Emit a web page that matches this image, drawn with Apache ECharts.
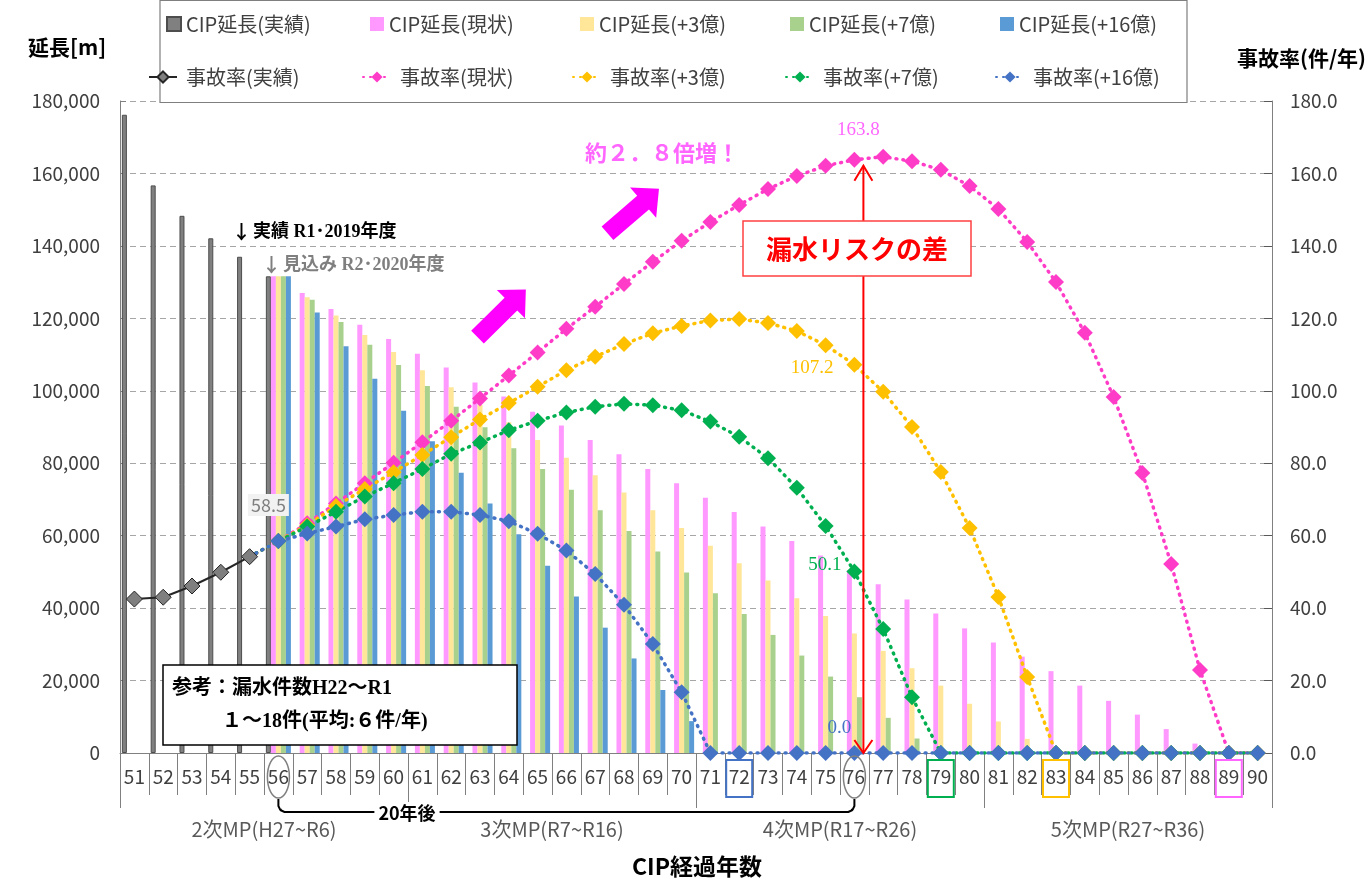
<!DOCTYPE html>
<html><head><meta charset="utf-8">
<script src="https://cdn.jsdelivr.net/npm/echarts/dist/echarts.min.js"></script>
<style>html,body{margin:0;padding:0;background:#fff}#c{width:1370px;height:880px}</style>
</head><body><div id="c"></div>
<script>
const categories = ['51','52','53','54','55','56','57','58','59','60','61','62','63','64','65','66','67','68','69','70','71','72','73','74','75','76','77','78','79','80','81','82','83','84','85','86','87','88','89','90'];
const mpGroups = ['2次MP(H27~R6)','3次MP(R7~R16)','4次MP(R17~R26)','5次MP(R27~R36)'];
const leftTicks = [0,20000,40000,60000,80000,100000,120000,140000,160000,180000];
const rightTicks = [0,20,40,60,80,100,120,140,160,180];

// CIP延長 [m]
const barActual = [176200,156700,148300,142100,137000,131600,null,null,null,null,null,null,null,null,null,null,null,null,null,null,null,null,null,null,null,null,null,null,null,null,null,null,null,null,null,null,null,null,null,null];
const barNow = [null,null,null,null,null,131600,127000,122600,118200,114300,110200,106400,102300,98400,94200,90400,86400,82500,78400,74500,70500,66500,62500,58500,54500,50500,46600,42400,38500,34400,30500,26600,22600,18600,14400,10600,6600,2600,0,0];
const bar3 = [null,null,null,null,null,131600,125800,120800,115400,110700,105700,101000,96100,91300,86400,81500,76700,71900,67000,62100,57200,52400,47600,42700,37800,33000,28200,23400,18600,13600,8700,3900,0,0,0,0,0,0,0,0];
const bar7 = [null,null,null,null,null,131600,125100,119000,112700,107100,101300,95600,89900,84100,78400,72700,67000,61300,55600,49800,44100,38400,32600,26900,21100,15400,9700,4000,0,0,0,0,0,0,0,0,0,0,0,0];
const bar16 = [null,null,null,null,null,131600,121600,112300,103300,94500,86100,77400,68900,60400,51700,43200,34600,26100,17400,8800,0,0,0,0,0,0,0,0,0,0,0,0,0,0,0,0,0,0,0,0];

// 事故率 [件/年]
const rateActual = [42.5,43.0,46.1,49.9,54.2,null,null,null,null,null,null,null,null,null,null,null,null,null,null,null,null,null,null,null,null,null,null,null,null,null,null,null,null,null,null,null,null,null,null,null];
const rateNow = [null,null,null,null,54.2,58.5,63.4,68.9,74.5,80.1,85.8,91.7,97.9,104.2,110.6,117.1,123.2,129.5,135.6,141.4,146.6,151.3,155.7,159.3,162.1,163.8,164.6,163.4,161.0,156.5,150.2,141.1,130.0,116.0,98.3,77.3,52.2,22.9,0,0];
const rate3 = [null,null,null,null,54.2,58.5,62.9,68.2,72.9,77.5,82.3,87.2,92.1,96.6,101.1,105.7,109.4,112.9,115.9,117.9,119.4,119.8,118.7,116.5,112.6,107.2,99.7,90.0,77.6,62.1,43.1,21.0,0,0,0,0,0,0,0,0];
const rate7 = [null,null,null,null,54.2,58.5,62.5,66.6,70.8,74.5,78.4,82.6,85.7,89.1,91.7,94.0,95.6,96.4,96.0,94.6,91.5,87.3,81.4,73.2,62.7,50.1,34.2,15.4,0,0,0,0,0,0,0,0,0,0,0,0];
const rate16 = [null,null,null,null,54.2,58.5,60.6,62.5,64.5,65.7,66.6,66.6,65.7,64.0,60.5,55.9,49.4,40.9,30.1,16.8,0,0,0,0,0,0,0,0,0,0,0,0,0,0,0,0,0,0,0,0];

const barNames = ['CIP延長(実績)','CIP延長(現状)','CIP延長(+3億)','CIP延長(+7億)','CIP延長(+16億)'];
const lineNames = ['事故率(実績)','事故率(現状)','事故率(+3億)','事故率(+7億)','事故率(+16億)'];
const barColors = ['#808080','#FF99FF','#FFE699','#A9D18E','#5B9BD5'];
const lineColors = ['#7F7F7F','#FF3CC8','#FFC000','#00B050','#4472C4'];

const SANS = "'Noto Sans CJK JP','Noto Sans',sans-serif";
const SERIF = "'Liberation Serif','Noto Sans CJK JP',serif";
const START_IDX = 4;   // forecast lines start (hidden symbol) at 55
const MARK_IDX = 25;   // category 76
const FIRST_IDX = 5;   // category 56

const chart = echarts.init(document.getElementById('c'), null, {renderer:'canvas'});

function fmt1(p){ return Number(p.value).toFixed(1); }

const labelCfgs = [
  null,
  {position:'top', distance:5, offset:[4,-7], color:'#FF66FF'},
  {position:'left', distance:5, offset:[-8,3], color:'#FFC000'},
  {position:'left', distance:5, offset:[0,-7], color:'#00B050'},
  {position:'top', distance:5, offset:[-15,-2], color:'#4472C4'}
];

function buildLine(data, k){
  return data.map((v,i)=>{
    if (v === null) return v;
    if (k > 0 && i === START_IDX) return {value:v, symbol:'none'};
    if (k > 0 && i === MARK_IDX) return {value:v, label:Object.assign({show:true, fontSize:19, fontFamily:SERIF, formatter:fmt1}, labelCfgs[k])};
    if (k === 4 && i === FIRST_IDX) return {value:v, label:{show:true, position:'top', distance:5, offset:[-10,-12], color:'#7F7F7F', backgroundColor:'#F2F2F2', padding:[2,3], fontSize:18, fontFamily:SANS, formatter:fmt1}};
    return v;
  });
}

const barData = [barActual, barNow, bar3, bar7, bar16];
const lineData = [rateActual, rateNow, rate3, rate7, rate16];

const series = [];
barData.forEach((d,k)=>{
  series.push({
    name: barNames[k], type:'bar', xAxisIndex:0, yAxisIndex:0, data:d,
    barGap:'0%', barCategoryGap:'13%',
    itemStyle: k===0 ? {color:barColors[k], borderColor:'#4d4d4d', borderWidth:1} : {color:barColors[k]},
    z:2
  });
});
lineData.forEach((d,k)=>{
  series.push({
    name: lineNames[k], type:'line', xAxisIndex:0, yAxisIndex:1, data: buildLine(d,k),
    symbol:'diamond', symbolSize:16, showAllSymbol:true, connectNulls:false,
    lineStyle: k===0 ? {color:'#262626', width:2, type:'solid'} : {color:lineColors[k], width:3.5, type:[1,6], cap:'round'},
    itemStyle: k===0 ? {color:'#7F7F7F', borderColor:'#262626', borderWidth:1} : {color:lineColors[k]},
    z: k===0 ? 4 : 3
  });
});

const barLegendX = [166, 370, 580, 790, 1000];
const lineLegendX = [148, 362, 572, 785, 995];
const legendText = {color:'#404040', fontSize:20, fontFamily:SANS};
const legends = [];
barNames.forEach((n,i)=>legends.push({data:[{name:n, icon:'rect'}], left:barLegendX[i], top:14, itemWidth:14, itemHeight:14, padding:0, selectedMode:false, textStyle:legendText}));
lineNames.forEach((n,i)=>legends.push({data:[n], left:lineLegendX[i], top:67, itemWidth:28, itemHeight:14, padding:0, selectedMode:false, textStyle:Object.assign({padding:[0,0,0,4]}, legendText)}));

const option = {
  animation:false,
  backgroundColor:'#fff',
  legend: legends,
  grid:{left:120, right:98, top:101, bottom:127, containLabel:false},
  xAxis:[
    {type:'category', data:categories, boundaryGap:true,
     axisLine:{show:true, lineStyle:{color:'#808080', width:1}},
     axisTick:{show:true, interval:0, length:42, lineStyle:{color:'#808080'}},
     axisLabel:{interval:0, margin:14, color:'#404040', fontSize:19, fontFamily:SANS}},
    {type:'category', data:mpGroups, position:'bottom', offset:42, boundaryGap:true,
     axisLine:{show:false},
     axisTick:{show:true, interval:0, length:55, lineStyle:{color:'#808080'}},
     axisLabel:{interval:0, margin:24, color:'#595959', fontSize:20, fontFamily:SANS}}
  ],
  yAxis:[
    {type:'value', min:0, max:180000, interval:20000, position:'left',
     axisLine:{show:true, lineStyle:{color:'#808080'}},
     axisTick:{show:true, inside:true, length:6, lineStyle:{color:'#808080'}},
     splitLine:{show:true, lineStyle:{color:'#A6A6A6', type:[6,4], width:1}},
     axisLabel:{margin:20, color:'#404040', fontSize:19, fontFamily:SANS,
       formatter:v=>v.toLocaleString('en-US')}},
    {type:'value', min:0, max:180, interval:20, position:'right',
     axisLine:{show:true, lineStyle:{color:'#808080'}},
     axisTick:{show:true, inside:true, length:8, lineStyle:{color:'#595959'}},
     splitLine:{show:false},
     axisLabel:{margin:18, color:'#404040', fontSize:19, fontFamily:SANS,
       formatter:v=>v.toFixed(1)}}
  ],
  series: series
};
chart.setOption(option);

// annotation graphics (positions derived from axes where tied to data)
const SI = 6; // a line series on the right axis
const cx = i => chart.convertToPixel({seriesIndex:SI}, [i, 0])[0];
const yR = v => chart.convertToPixel({seriesIndex:SI}, [0, v])[1];
const base = yR(0);

function arrowShape(x, y, rot){
  return {type:'polygon', x:x, y:y, rotation:rot, z:6,
    shape:{points:[[0,-9],[47,-9],[47,-20],[68,0],[47,20],[47,9],[0,9]]},
    style:{fill:'#FF00FF'}};
}

const g = [];
// legend frame
g.push({type:'rect', z:3, shape:{x:160, y:0.5, width:1027, height:102}, style:{fill:'#fff', stroke:'#7F7F7F', lineWidth:1.2}});
// axis names
g.push({type:'text', z:6, x:28, y:47, style:{text:'延長[m]', font:"bold 21px "+SANS, fill:'#000', textVerticalAlign:'middle', textAlign:'left'}});
g.push({type:'text', z:6, x:1366, y:58, style:{text:'事故率(件/年)', font:"bold 21px "+SANS, fill:'#000', textVerticalAlign:'middle', textAlign:'right'}});
g.push({type:'text', z:6, x:697, y:866, style:{text:'CIP経過年数', font:"bold 23px "+SANS, fill:'#000', textVerticalAlign:'middle', textAlign:'center'}});
// annotations
g.push({type:'text', z:6, x:232, y:232, style:{text:'{a|↓}{b|実績 R1･2019年度}', fill:'#000', textVerticalAlign:'middle',
  rich:{a:{fontFamily:SANS, fontSize:19, fontWeight:'bold', fill:'#000', padding:[0,2,0,0]}, b:{fontFamily:SERIF, fontSize:18, fontWeight:'bold', fill:'#000'}}}});
g.push({type:'text', z:6, x:262, y:265, style:{text:'{a|↓}{b|見込み R2･2020年度}', fill:'#7F7F7F', textVerticalAlign:'middle',
  rich:{a:{fontFamily:SANS, fontSize:19, fontWeight:'bold', fill:'#7F7F7F', padding:[0,2,0,0]}, b:{fontFamily:SERIF, fontSize:18, fontWeight:'bold', fill:'#7F7F7F'}}}});
g.push({type:'text', z:6, x:662, y:153, style:{text:'約２．８倍増！', font:"bold 22px "+SANS, fill:'#FF66FF', textVerticalAlign:'middle', textAlign:'center'}});
g.push(arrowShape(477.5, 337.2, 0.78));
g.push(arrowShape(607.5, 233.3, 0.712));
// red difference arrow
const ax = cx(MARK_IDX) + 9;
const topY = yR(163.8) + 6;
g.push({type:'line', z:5, shape:{x1:ax, y1:topY, x2:ax, y2:base}, style:{stroke:'#FF0000', lineWidth:2}});
g.push({type:'polyline', z:5, shape:{points:[[ax-9,topY+15],[ax,topY],[ax+9,topY+15]]}, style:{stroke:'#FF0000', lineWidth:2, fill:null}});
g.push({type:'polyline', z:5, shape:{points:[[ax-9,base-13],[ax,base],[ax+9,base-13]]}, style:{stroke:'#FF0000', lineWidth:2, fill:null}});
g.push({type:'rect', z:6, shape:{x:743, y:221, width:228, height:55}, style:{fill:'#fff', stroke:'#FF4040', lineWidth:1.5}});
g.push({type:'text', z:7, x:857, y:249, style:{text:'漏水リスクの差', font:"bold 26px "+SANS, fill:'#FF0000', textVerticalAlign:'middle', textAlign:'center'}});
// info box
g.push({type:'rect', z:6, shape:{x:163, y:665, width:354, height:80}, style:{fill:'#fff', stroke:'#000', lineWidth:1.5}});
g.push({type:'text', z:7, x:172, y:689, style:{text:'参考：漏水件数H22～R1', font:"bold 20px "+SERIF, fill:'#000', textVerticalAlign:'middle'}});
g.push({type:'text', z:7, x:222, y:722, style:{text:'１～18件(平均:６件/年)', font:"bold 20px "+SERIF, fill:'#000', textVerticalAlign:'middle'}});
// circles around 56 and 76
[FIRST_IDX, MARK_IDX].forEach(i=>{
  g.push({type:'ellipse', z:6, shape:{cx:cx(i), cy:base+24, rx:11, ry:21}, style:{fill:null, stroke:'#808080', lineWidth:1.5}});
});
// squares around zero years
[[21,'#4472C4'],[28,'#00B050'],[32,'#FFC000'],[38,'#FF66FF']].forEach(([i,c])=>{
  g.push({type:'rect', z:6, shape:{x:cx(i)-13, y:base+7, width:26, height:37}, style:{fill:null, stroke:c, lineWidth:2}});
});
// 20年後 bracket
const x56 = cx(FIRST_IDX), x76 = cx(MARK_IDX), by = base+59;
const r = 6, c = 0.29;
g.push({type:'polyline', z:6, shape:{points:[
  [x56, base+46],[x56, by-r],[x56+r*c, by-r*c*1.4],[x56+r*0.4, by-r*0.4],[x56+r*c*1.4, by-r*c],[x56+r, by],
  [x76-r, by],[x76-r*c*1.4, by-r*c],[x76-r*0.4, by-r*0.4],[x76-r*c, by-r*c*1.4],[x76, by-r],[x76, base+46]
]}, style:{fill:null, stroke:'#000', lineWidth:2}});
g.push({type:'text', z:7, x:407, y:by+1, style:{text:'20年後', font:"bold 18px "+SANS, fill:'#000', textVerticalAlign:'middle', textAlign:'center', backgroundColor:'#fff', padding:[2,4]}});

chart.setOption({graphic:g});
</script></body></html>
